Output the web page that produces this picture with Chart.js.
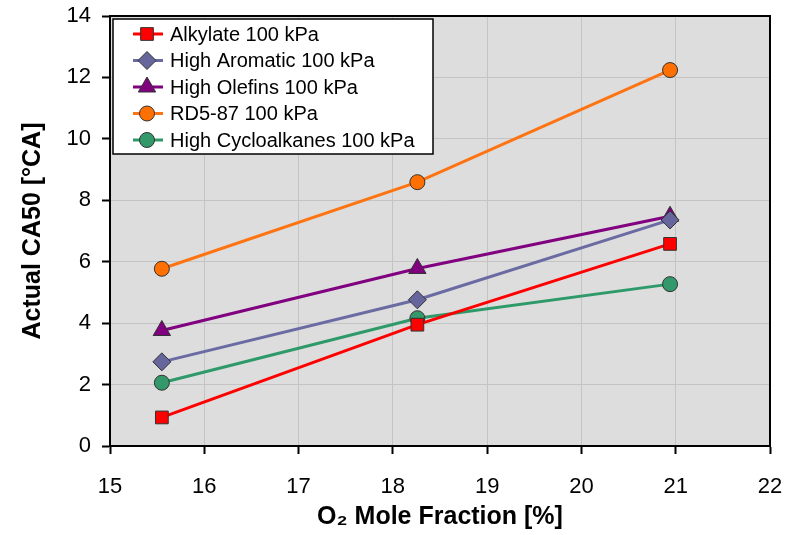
<!DOCTYPE html>
<html>
<head>
<meta charset="utf-8">
<script src="https://cdn.jsdelivr.net/npm/chart.js@4.4.0/dist/chart.umd.min.js"></script>
<style>
  html, body { margin: 0; padding: 0; background: #ffffff; }
  #wrap { width: 798px; height: 535px; position: relative; }
</style>
</head>
<body>
<div id="wrap"><canvas id="chartCA50"></canvas></div>
<script>
Chart.defaults.font.family = "'Liberation Sans', Arial, sans-serif";
Chart.defaults.color = '#000000';

// O2 mole fraction [%] of the three test points
const oxygenFraction = [15.55, 18.26, 20.94];

// Actual CA50 [°CA]
const alkylate = [0.93, 3.95, 6.58];
const highAromatic = [2.74, 4.76, 7.36];
const highOlefins = [3.76, 5.78, 7.48];
const rd587 = [5.77, 8.59, 12.24];
const highCycloalkanes = [2.06, 4.16, 5.27];

const seriesNames = ['Alkylate 100 kPa', 'High Aromatic 100 kPa', 'High Olefins 100 kPa', 'RD5-87 100 kPa', 'High Cycloalkanes 100 kPa'];
const seriesValues = [alkylate, highAromatic, highOlefins, rd587, highCycloalkanes];
const lineColors = ['#ff0000', '#6b6ba3', '#800080', '#ff7412', '#2e9a6a'];
const markerColors = ['#ff0000', '#66669c', '#800080', '#ff7000', '#33996a'];
const markerShapes = ['rect', 'rectRot', 'triangle', 'circle', 'circle'];
const markerSizes = [9, 9, 10, 7.5, 7.5];

const xTicks = { min: 15, max: 22, step: 1 };
const yTicks = { min: 0, max: 14, step: 2 };

const toPoints = vals => vals.map((v, i) => ({ x: oxygenFraction[i], y: v }));

// plot background + top/right frame
const plotFrame = {
    id: 'plotFrame',
    beforeDraw(chart) {
        const { ctx, chartArea: a } = chart;
        ctx.save();
        ctx.fillStyle = '#dddddd';
        ctx.fillRect(a.left, a.top, a.right - a.left, a.bottom - a.top);
        ctx.restore();
    },
    afterDraw(chart) {
        const { ctx, chartArea: a } = chart;
        ctx.save();
        ctx.strokeStyle = '#000000';
        ctx.lineWidth = 2;
        ctx.beginPath();
        ctx.moveTo(a.left, a.top);
        ctx.lineTo(a.right, a.top);
        ctx.lineTo(a.right, a.bottom);
        ctx.stroke();
        ctx.restore();
    }
};

// boxed legend in the top-left corner of the plot
const boxLegend = {
    id: 'boxLegend',
    afterDraw(chart) {
        const { ctx, chartArea: a } = chart;
        const x0 = a.left + 3, y0 = a.top + 3, w = 320, h = 135;
        ctx.save();
        ctx.fillStyle = '#ffffff';
        ctx.fillRect(x0, y0, w, h);
        ctx.strokeStyle = '#000000';
        ctx.lineWidth = 1.5;
        ctx.strokeRect(x0, y0, w, h);
        ctx.font = "20px 'Liberation Sans', Arial, sans-serif";
        ctx.textBaseline = 'middle';
        chart.data.datasets.forEach((ds, i) => {
            const y = y0 + 15 + i * 26.5;
            ctx.strokeStyle = ds.borderColor;
            ctx.lineWidth = 3;
            ctx.beginPath();
            ctx.moveTo(x0 + 20, y);
            ctx.lineTo(x0 + 50, y);
            ctx.stroke();
            ctx.fillStyle = ds.pointBackgroundColor;
            ctx.strokeStyle = '#333333';
            ctx.lineWidth = 1;
            Chart.helpers.drawPoint(ctx, { pointStyle: ds.pointStyle, radius: ds.pointRadius, borderWidth: 1 }, x0 + 34, y);
            ctx.fillStyle = '#000000';
            ctx.fillText(ds.label, x0 + 57, y + 1);
        });
        ctx.restore();
    }
};

new Chart(document.getElementById('chartCA50'), {
    type: 'scatter',
    data: {
        datasets: seriesNames.map((name, i) => ({
            label: name,
            data: toPoints(seriesValues[i]),
            showLine: true,
            borderColor: lineColors[i],
            borderWidth: 3,
            pointStyle: markerShapes[i],
            pointRadius: markerSizes[i],
            pointHoverRadius: markerSizes[i],
            pointBackgroundColor: markerColors[i],
            pointBorderColor: '#333333',
            pointBorderWidth: 1
        }))
    },
    options: {
        responsive: true, maintainAspectRatio: false, animation: false,
        layout: { padding: { top: 16, right: 28, left: 0, bottom: 0 } },
        plugins: { legend: { display: false }, tooltip: { enabled: false } },
        scales: {
            x: {
                type: 'linear', min: xTicks.min, max: xTicks.max,
                afterFit: s => { s.height = 89; s.paddingLeft = 0; s.paddingRight = 0; },
                ticks: { stepSize: xTicks.step, padding: 20, font: { size: 22 }, color: '#000' },
                grid: { color: '#c4c4c4', lineWidth: 1, tickColor: '#000', tickLength: 8, tickWidth: 2 },
                border: { color: '#000', width: 2 },
                title: { display: true, text: 'O₂ Mole Fraction [%]', font: { size: 25, weight: 'bold' }, color: '#000', padding: { top: 0, bottom: 3 } }
            },
            y: {
                min: yTicks.min, max: yTicks.max,
                afterFit: s => { s.width = 110; s.paddingTop = 0; s.paddingBottom = 0; },
                ticks: { stepSize: yTicks.step, padding: 11, font: { size: 22 }, color: '#000' },
                grid: { color: '#c4c4c4', lineWidth: 1, tickColor: '#000', tickLength: 8, tickWidth: 2 },
                border: { color: '#000', width: 2 },
                title: { display: true, text: 'Actual CA50 [°CA]', font: { size: 25, weight: 'bold' }, color: '#000', padding: { top: 18, bottom: 0 } }
            }
        }
    },
    plugins: [plotFrame, boxLegend]
});
</script>
</body>
</html>
